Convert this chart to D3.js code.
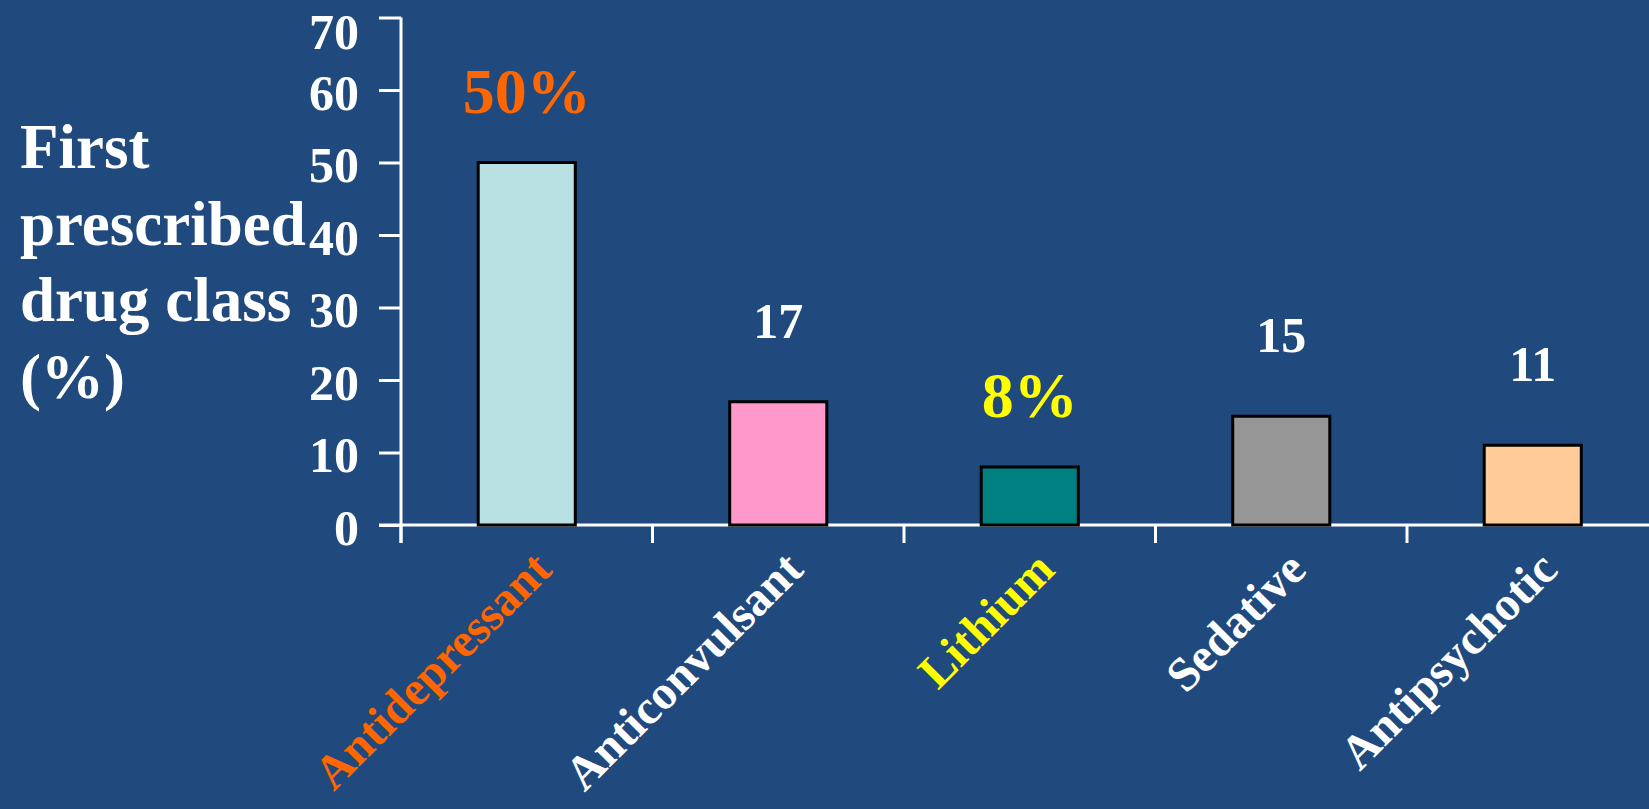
<!DOCTYPE html>
<html>
<head>
<meta charset="utf-8">
<script src="https://cdn.jsdelivr.net/npm/d3@7"></script>
<style>
  html, body { margin: 0; padding: 0; background: #20497D; overflow: hidden; }
  svg { display: block; }
  text { font-family: "Liberation Serif", "Times New Roman", serif; font-weight: bold; }
</style>
</head>
<body>
<svg id="chart" width="1649" height="809"></svg>
<script>
// Share of patients by first prescribed drug class (%)
const categories = ["Antidepressant", "Anticonvulsant", "Lithium", "Sedative", "Antipsychotic"];
const shares = [50, 17, 8, 15, 11];
const yTicks = [0, 10, 20, 30, 40, 50, 60, 70];
const titleLines = ["First", "prescribed", "drug class", "(%)"];

// Styling
const barFill = {
  Antidepressant: "#B9E0E2",
  Anticonvulsant: "#FF99CC",
  Lithium: "#008080",
  Sedative: "#969696",
  Antipsychotic: "#FFCC99"
};
const accent = { Antidepressant: "#FF6600", Lithium: "#FFFF00" };
const ink = "#FFFFFF";

const svg = d3.select("#chart");
svg.append("rect").attr("width", 1649).attr("height", 809).attr("fill", "#20497D");

const axisLeftX = 401;
const y = d3.scaleLinear().domain([0, 70]).range([525, 17.5]);
const x = d3.scaleBand().domain(categories).range([axisLeftX, axisLeftX + 5 * 251.5]).padding(0);

// Y axis
const yAxis = svg.append("g")
  .attr("transform", `translate(${axisLeftX},0)`)
  .call(d3.axisLeft(y).tickValues(yTicks).tickSize(22).tickSizeOuter(0).tickPadding(20));
yAxis.select(".domain").remove();
yAxis.selectAll(".tick line").attr("stroke", ink).attr("stroke-width", 3);
yAxis.selectAll(".tick text")
  .attr("fill", ink)
  .attr("font-size", 50)
  .attr("font-family", "Liberation Serif, Times New Roman, serif")
  .attr("font-weight", "bold")
  .attr("dy", d => (y(d) < 30 ? "0.62em" : "0.38em"));

// Vertical axis line, continuing down to the first category tick
svg.append("line")
  .attr("x1", axisLeftX).attr("x2", axisLeftX)
  .attr("y1", y(70)).attr("y2", y(0) + 18)
  .attr("stroke", ink).attr("stroke-width", 3);

// Horizontal axis line
svg.append("line")
  .attr("x1", axisLeftX - 22).attr("x2", 1649)
  .attr("y1", y(0)).attr("y2", y(0))
  .attr("stroke", ink).attr("stroke-width", 3);

// Category boundary ticks
const boundaries = categories.map(c => x(c)).concat([x.range()[1]]);
svg.append("g").selectAll("line")
  .data(boundaries)
  .join("line")
  .attr("x1", d => d).attr("x2", d => d)
  .attr("y1", y(0)).attr("y2", y(0) + 18)
  .attr("stroke", ink).attr("stroke-width", 3);

// Bars
const barW = x.bandwidth() * 0.386;
const center = c => x(c) + x.bandwidth() / 2;
svg.append("g").selectAll("rect")
  .data(categories)
  .join("rect")
  .attr("x", c => center(c) - barW / 2)
  .attr("y", (c, i) => y(shares[i]))
  .attr("width", barW)
  .attr("height", (c, i) => y(0) - y(shares[i]))
  .attr("fill", c => barFill[c])
  .attr("stroke", "#000")
  .attr("stroke-width", 3);

// Value labels: highlighted classes shown as percentages
svg.append("g").selectAll("text")
  .data(categories)
  .join("text")
  .attr("x", c => center(c))
  .attr("y", (c, i) => y(shares[i]) - (accent[c] ? 50 : 64))
  .attr("text-anchor", "middle")
  .attr("font-size", c => (accent[c] ? 64 : 50))
  .attr("fill", c => accent[c] || ink)
  .text((c, i) => accent[c] ? `${shares[i]}%` : `${shares[i]}`);

// Rotated category labels
svg.append("g").selectAll("text")
  .data(categories)
  .join("text")
  .attr("transform", c => `translate(${center(c) + 27},572) rotate(-45)`)
  .attr("text-anchor", "end")
  .attr("font-size", 48)
  .attr("fill", c => accent[c] || ink)
  .text(c => c);

// Y axis title
svg.append("text")
  .attr("x", 20)
  .attr("font-size", 63)
  .attr("fill", ink)
  .selectAll("tspan")
  .data(titleLines)
  .join("tspan")
  .attr("x", 20)
  .attr("y", (d, i) => 168 + i * 76.5)
  .text(d => d);
</script>
</body>
</html>
